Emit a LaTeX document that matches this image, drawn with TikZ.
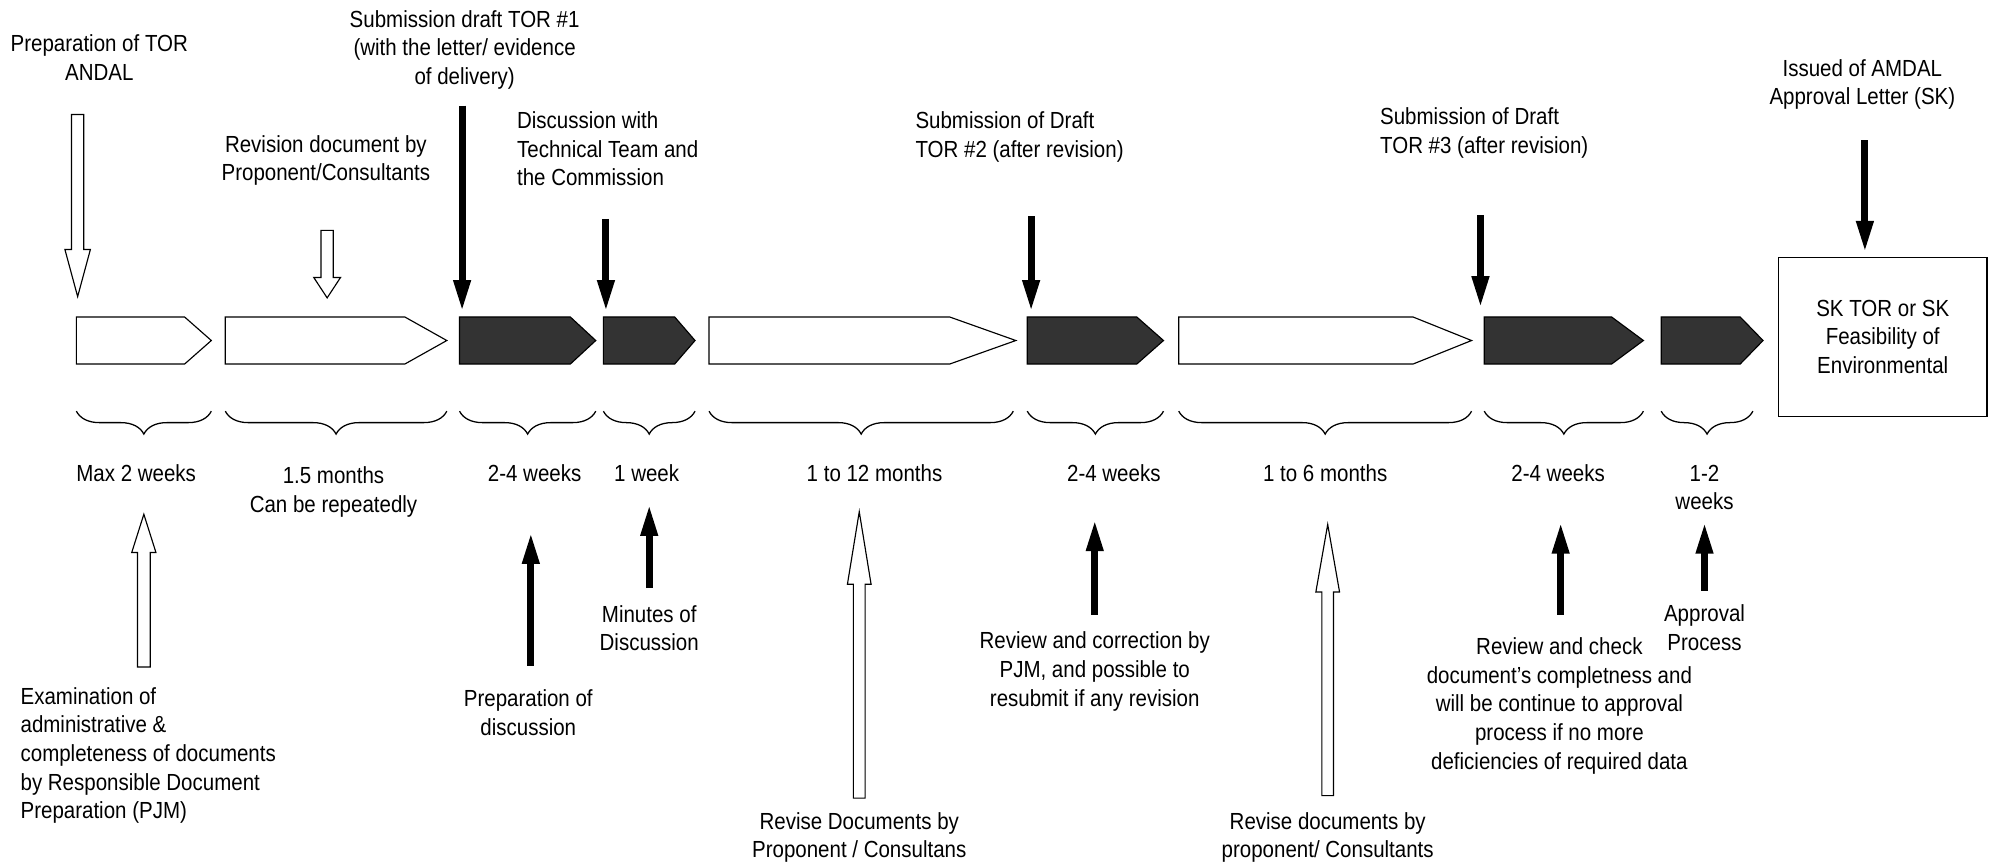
\documentclass[tikz,border=0pt]{standalone}
\usepackage{fontspec}
\setmainfont{Liberation Sans}[FakeStretch=0.88]
\usetikzlibrary{arrows.meta,decorations.pathreplacing,calc}
\definecolor{darkfill}{HTML}{333333}
\newcommand\chevshape[4]{\draw[#4] (#1,249) -- (#2,249) -- (#3,267.5) -- (#2,286) -- (#1,286) -- cycle;}
% from, to, head length, shaft half width, head half width
\newcommand\hollowarrow[5]{%
  \draw[hollowst] let \p1=(#1), \p2=(#2), \n1={sign(\y2-\y1)} in
    (\x1-#4pt,\y1) -- (\x1-#4pt,{\y2-(\n1)*#3pt}) -- (\x1-#5pt,{\y2-(\n1)*#3pt}) --
    (\x2,\y2) -- (\x1+#5pt,{\y2-(\n1)*#3pt}) -- (\x1+#4pt,{\y2-(\n1)*#3pt}) --
    (\x1+#4pt,\y1) -- cycle;}
\begin{document}
\begin{tikzpicture}[x=1pt,y=-1pt,
  lbl/.style={inner sep=0pt, align=center, font=\fontsize{18.3}{22.5}\selectfont},
  lbll/.style={lbl, align=left},
  solidarr/.style={line width=5.5pt, -{Triangle[length=25pt,width=12.5pt]}},
  hollowst/.style={draw=black, line width=0.9pt, fill=white, line join=miter},
  chevw/.style={draw=black, line width=0.9pt, fill=white},
  chevd/.style={draw=black, line width=0.9pt, fill=darkfill},
  bracest/.style={decorate, decoration={brace, mirror, amplitude=18pt}, line width=1pt}]
\useasboundingbox (0,0) rectangle (1568,679);

% chevrons
\chevshape{60}{145}{166}{chevw}
\chevshape{177}{318}{351}{chevw}
\chevshape{361}{448}{468}{chevd}
\chevshape{474}{530}{546}{chevd}
\chevshape{557}{746}{798}{chevw}
\chevshape{807}{893}{914}{chevd}
\chevshape{926}{1110}{1156}{chevw}
\chevshape{1166}{1266}{1291}{chevd}
\chevshape{1305}{1367}{1385}{chevd}

% final box
\node[lbl, draw, line width=1pt, minimum width=164pt, minimum height=125pt] (box) at (1479,264.5) {SK TOR or SK\\Feasibility of\\Environmental};

% braces
\draw[bracest] (60,323) -- (166,323);
\draw[bracest] (177,323) -- (351,323);
\draw[bracest] (361,323) -- (468,323);
\draw[bracest] (474,323) -- (546,323);
\draw[bracest] (557,323) -- (796,323);
\draw[bracest] (807,323) -- (914,323);
\draw[bracest] (926,323) -- (1156,323);
\draw[bracest] (1166,323) -- (1291,323);
\draw[bracest] (1305,323) -- (1377,323);

% top labels
\node[lbl] (tprep) at (78,45) {Preparation of TOR\\ANDAL};
\node[lbl] (trevdoc) at (256,126) {Revision document by\\Proponent/Consultants};
\node[lbl] (tsub1) at (365,39) {Submission draft TOR \#1\\(with the letter/ evidence\\of delivery)};
\node[lbll, anchor=west] (tdisc) at (406,117) {Discussion with\\Technical Team and\\the Commission};
\node[lbll, anchor=west] (tsub2) at (719,107.5) {Submission of Draft\\TOR \#2 (after revision)};
\node[lbll, anchor=west] (tsub3) at (1084,104.5) {Submission of Draft\\TOR \#3 (after revision)};
\node[lbl] (tissued) at (1463,66.5) {Issued of AMDAL\\Approval Letter (SK)};

% top arrow coordinates
\coordinate (a1s) at (61,90);    \coordinate (a1e) at (61,233);
\coordinate (a2s) at (257,181);  \coordinate (a2e) at (257,234);
\coordinate (a3s) at (363,83);   \coordinate (a3e) at (363,245);
\coordinate (a4s) at (476,172);  \coordinate (a4e) at (476,245);
\coordinate (a5s) at (810,170);  \coordinate (a5e) at (810,245);
\coordinate (a6s) at (1163,169); \coordinate (a6e) at (1163,242);
\coordinate (a7s) at (1465,110); \coordinate (a7e) at (box.north -| a7s);

\hollowarrow{a1s}{a1e}{37}{4.8}{10}
\hollowarrow{a2s}{a2e}{16}{4.8}{10.5}
\draw[solidarr] (a3s) -- (a3e);
\draw[solidarr] (a4s) -- (a4e);
\draw[solidarr] (a5s) -- (a5e);
\draw[solidarr] (a6s) -- (a6e);
\draw[solidarr] (a7s) -- ([yshift=3pt]a7e);

% duration labels
\node[lbl] (d1) at (107,372) {Max 2 weeks};
\node[lbl] (d2) at (262,386.5) {1.5 months\\Can be repeatedly};
\node[lbl] (d3) at (420,372) {2-4 weeks};
\node[lbl] (d4) at (508,372) {1 week};
\node[lbl] (d5) at (687,372) {1 to 12 months};
\node[lbl] (d6) at (875,372) {2-4 weeks};
\node[lbl] (d7) at (1041,372) {1 to 6 months};
\node[lbl] (d8) at (1224,372) {2-4 weeks};
\node[lbl] (d9) at (1339,383) {1-2\\weeks};

% bottom arrow coordinates
\coordinate (b1s) at (113,524);  \coordinate (b1e) at (113,404);
\coordinate (b2s) at (417,523);  \coordinate (b2e) at (417,418);
\coordinate (b3s) at (510,462);  \coordinate (b3e) at (510,396);
\coordinate (b4s) at (675,627);  \coordinate (b4e) at (675,402);
\coordinate (b5s) at (860,483);  \coordinate (b5e) at (860,408);
\coordinate (b6s) at (1043,625); \coordinate (b6e) at (1043,412);
\coordinate (b7s) at (1226,483); \coordinate (b7e) at (1226,410);
\coordinate (b8s) at (1339,464); \coordinate (b8e) at (1339,410);

\hollowarrow{b1s}{b1e}{30}{5}{9.5}
\draw[solidarr] (b2s) -- (b2e);
\draw[solidarr] (b3s) -- (b3e);
\hollowarrow{b4s}{b4e}{57}{4.6}{9.3}
\draw[solidarr] (b5s) -- (b5e);
\hollowarrow{b6s}{b6e}{53}{4.6}{9.3}
\draw[solidarr] (b7s) -- (b7e);
\draw[solidarr] (b8s) -- (b8e);

% bottom labels
\node[lbll, anchor=west] (texam) at (16,593.5) {Examination of\\administrative \&\\completeness of documents\\by Responsible Document\\Preparation (PJM)};
\node[lbl] (tprepd) at (415,560) {Preparation of\\discussion};
\node[lbl] (tmin) at (510,493.5) {Minutes of\\Discussion};
\node[lbl] (trev1) at (675,658) {Revise Documents by\\Proponent / Consultans};
\node[lbl] (trevcorr) at (860,527.5) {Review and correction by\\PJM, and possible to\\resubmit if any revision};
\node[lbl] (trev2) at (1043,658) {Revise documents by\\proponent/ Consultants};
\node[lbl] (tcheck) at (1225,554.5) {Review and check\\document’s completness and\\will be continue to approval\\process if no more\\deficiencies of required data};
\node[lbl] (tappr) at (1339,493) {Approval\\Process};
\end{tikzpicture}
\end{document}
